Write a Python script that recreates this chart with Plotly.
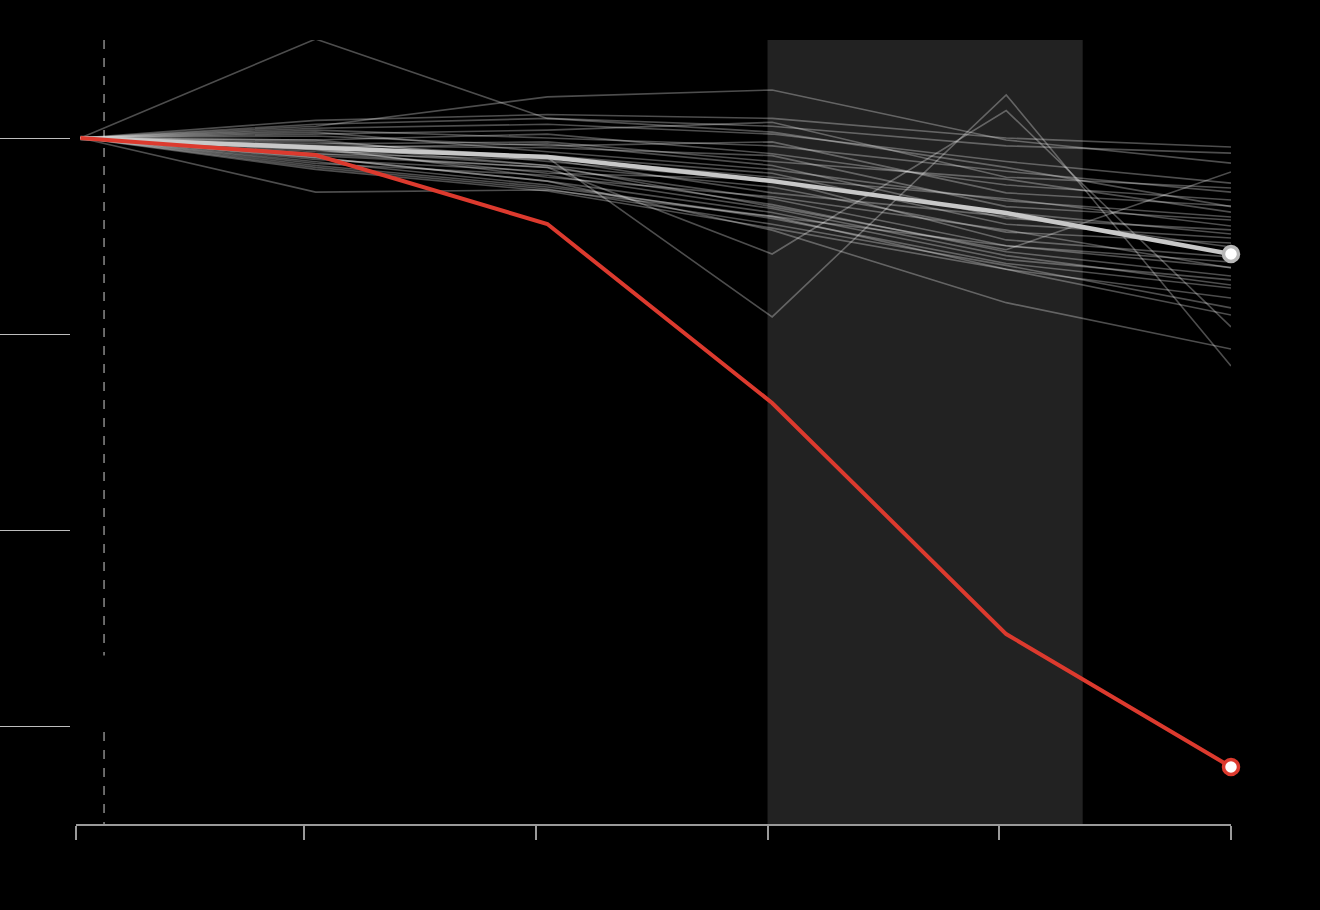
import plotly.graph_objects as go

# x positions of observations (in axis units)
X = [0.035, 1.05, 2.05, 3.02, 4.03, 5.0]
X_TICKS = [0.016, 1, 2, 3, 4, 5]
Y_TICKS = [100, 90, 80, 70]
SHADE = [3.0, 4.36]
MARK_X = 0.137

GRAY_SERIES = [
    [100, 105.05, 101.0, 100.3, 98.5, 96.5],
    [100, 97.24, 97.35, 96.0, 94.5, 93.4],
    [100, 100.6, 102.1, 102.45, 99.9, 98.72],
    [100, 99.5, 99.0, 90.87, 102.2, 88.37],
    [100, 99.2, 98.5, 94.08, 101.4, 90.36],
    [100, 99.0, 97.8, 95.3, 91.6, 89.23],
    [100, 99.4, 98.6, 96.5, 94.3, 98.27],
    [100, 100.9, 101.2, 101.0, 100.0, 99.54],
    [100, 100.7, 101.0, 100.6, 99.6, 99.23],
    [100, 100.5, 100.7, 100.2, 98.8, 97.70],
    [100, 100.2, 100.4, 100.8, 98.0, 97.45],
    [100, 100.4, 100.0, 99.6, 98.3, 97.24],
    [100, 99.9, 100.2, 99.2, 97.6, 96.84],
    [100, 100.1, 99.6, 99.8, 97.2, 96.53],
    [100, 99.7, 99.8, 98.8, 97.9, 96.22],
    [100, 100.3, 99.3, 98.4, 96.8, 95.97],
    [100, 99.6, 99.5, 99.1, 96.5, 95.82],
    [100, 99.8, 99.0, 98.0, 96.9, 95.51],
    [100, 99.5, 99.7, 98.6, 95.9, 95.31],
    [100, 99.9, 98.8, 97.8, 96.2, 95.10],
    [100, 99.3, 99.1, 98.2, 95.6, 94.90],
    [100, 99.6, 98.6, 97.5, 95.2, 94.64],
    [100, 99.2, 98.9, 97.2, 96.0, 94.44],
    [100, 99.4, 98.2, 97.9, 94.8, 93.93],
    [100, 99.1, 98.5, 96.9, 94.5, 93.67],
    [100, 99.5, 98.0, 97.0, 95.3, 93.37],
    [100, 98.9, 98.3, 96.6, 94.2, 92.96],
    [100, 99.0, 97.8, 96.2, 93.8, 92.76],
    [100, 98.7, 98.1, 96.4, 94.0, 92.50],
    [100, 98.8, 97.6, 95.9, 93.6, 92.35],
    [100, 98.6, 97.5, 96.0, 93.3, 91.84],
    [100, 98.5, 97.4, 95.6, 93.5, 91.33],
    [100, 98.4, 97.3, 95.4, 93.3, 90.97],
]
MEAN = [100, 99.54, 99.03, 97.8, 96.17, 94.08]
HIGHLIGHT = [100, 99.13, 95.61, 86.48, 74.69, 67.91]

RED = "#dc3a2e"

fig = go.Figure()
for s in GRAY_SERIES:
    fig.add_trace(go.Scatter(x=X, y=s, mode="lines",
                             line=dict(color="rgba(255,255,255,0.3)", width=1.6),
                             hoverinfo="skip", showlegend=False))
fig.add_trace(go.Scatter(x=X, y=MEAN, mode="lines",
                         line=dict(color="#c8c8c8", width=4.5),
                         hoverinfo="skip", showlegend=False))
fig.add_trace(go.Scatter(x=X, y=HIGHLIGHT, mode="lines",
                         line=dict(color=RED, width=4),
                         hoverinfo="skip", showlegend=False))
fig.add_trace(go.Scatter(x=[X[-1]], y=[MEAN[-1]], mode="markers", cliponaxis=False,
                         marker=dict(size=15, color="white", line=dict(color="#b8b8b8", width=3.5)),
                         hoverinfo="skip", showlegend=False))
fig.add_trace(go.Scatter(x=[X[-1]], y=[HIGHLIGHT[-1]], mode="markers", cliponaxis=False,
                         marker=dict(size=15, color="white", line=dict(color=RED, width=3.5)),
                         hoverinfo="skip", showlegend=False))

fig.add_shape(type="rect", xref="x", yref="paper", x0=SHADE[0], x1=SHADE[1], y0=0, y1=1,
              fillcolor="#222222", line=dict(width=0), layer="below")
fig.add_shape(type="line", xref="x", yref="y", x0=MARK_X, x1=MARK_X, y0=105, y1=73.6,
              line=dict(color="#8a8a8a", width=1.5, dash="dash"), layer="below")
fig.add_shape(type="line", xref="x", yref="y", x0=MARK_X, x1=MARK_X, y0=69.7, y1=65,
              line=dict(color="#8a8a8a", width=1.5, dash="dash"), layer="below")

fig.update_layout(
    width=1320, height=910,
    paper_bgcolor="black", plot_bgcolor="black",
    margin=dict(l=70, r=89, t=40, b=86, autoexpand=False),
    showlegend=False,
    xaxis=dict(domain=[6 / 1161, 1], range=[X_TICKS[0], 5], tickvals=X_TICKS,
               showticklabels=False, ticks="outside", ticklen=14, tickwidth=2,
               tickcolor="#9a9a9a", showline=True, linecolor="#9a9a9a", linewidth=2,
               showgrid=False, zeroline=False, automargin=False),
    yaxis=dict(range=[65, 105], tickvals=Y_TICKS, anchor="free", position=0,
               showticklabels=False, ticks="outside", ticklen=70, tickwidth=1,
               tickcolor="#bdbdbd", showline=False, showgrid=False, zeroline=False,
               automargin=False),
)

fig.write_html("out.html", config={"displayModeBar": False})

# remove the default page margin so the figure fills the window
with open("out.html", "r", encoding="utf-8") as f:
    html = f.read()
html = html.replace("<head>", "<head><style>html,body{margin:0;padding:0;background:#000;overflow:hidden;}</style>", 1)
with open("out.html", "w", encoding="utf-8") as f:
    f.write(html)
